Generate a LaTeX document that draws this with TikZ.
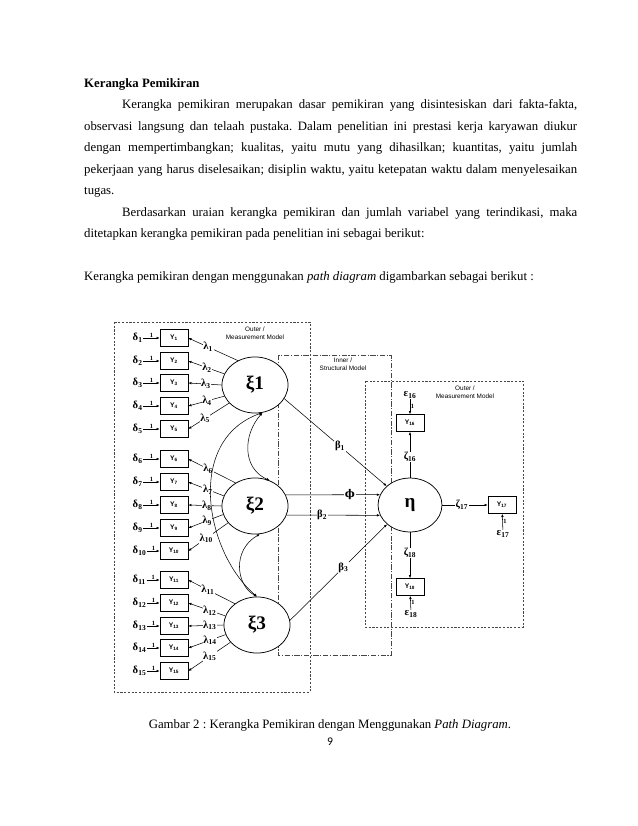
\documentclass[tikz,border=0pt]{standalone}
\usepackage{fontspec}
\setmainfont{Liberation Serif}
\newfontfamily\labsf{Liberation Sans}
\newfontfamily\pagesf{Carlito}
\newfontfamily\phisf{DejaVu Serif}
\usetikzlibrary{arrows.meta,shapes.geometric}
\definecolor{boxGray}{RGB}{70,70,70}
\newcommand{\gsym}[2]{\textbf{#1\textsubscript{#2}}}
\frenchspacing

\begin{document}
\begin{tikzpicture}[x=0.033cm,y=-0.033cm,
          txt/.style={anchor=base west,inner sep=0pt,font=\fontsize{12}{14}\selectfont},
          ybox/.style={draw,fill=white,line width=0.6pt,minimum width=0.92cm,minimum height=0.56cm,
                       inner sep=0pt,font=\labsf\bfseries\fontsize{6.3}{7}\selectfont},
          latent/.style={ellipse,draw,fill=white,line width=0.7pt,minimum width=2.18cm,
                         minimum height=1.85cm,inner sep=0pt,font=\bfseries\fontsize{18}{19}\selectfont},
          errlab/.style={anchor=west,inner sep=0.5pt,font=\bfseries\fontsize{10}{11}\selectfont},
          onlab/.style={fill=white,inner sep=0.6pt,font=\bfseries\fontsize{10}{11}\selectfont},
          one/.style={inner sep=0.5pt,font=\bfseries\fontsize{6}{6.5}\selectfont},
          modlab/.style={align=center,inner sep=0pt,font=\labsf\fontsize{6}{7.5}\selectfont},
          outerbox/.style={draw=boxGray,line width=0.6pt,dash pattern=on 2pt off 1.5pt},
          innerbox/.style={draw=boxGray,line width=0.6pt,dash pattern=on 5pt off 1.5pt on 1pt off 1.5pt},
          arr/.style={line width=0.5pt,-{Latex[length=3pt,width=2.4pt]}},
          dblarr/.style={line width=0.5pt,{Latex[length=3pt,width=2.4pt]}-{Latex[length=3pt,width=2.4pt]}},
        ]
        \fill[white] (0,0) rectangle (638,826);
        \useasboundingbox (0,0) rectangle (638,826);

        % TEXT
        \node[txt,font=\bfseries\fontsize{12}{14}\selectfont] (head) at (84,87) {Kerangka Pemikiran};
        \node[txt] (l1) at (122,108) {\makebox[15.02cm][s]{Kerangka pemikiran merupakan dasar pemikiran yang disintesiskan dari fakta-fakta,}};
        \node[txt] (l2) at (84,130) {\makebox[16.27cm][s]{observasi langsung dan telaah pustaka. Dalam penelitian ini prestasi kerja karyawan diukur}};
        \node[txt] (l3) at (84,151.5) {\makebox[16.27cm][s]{dengan mempertimbangkan; kualitas, yaitu mutu yang dihasilkan; kuantitas, yaitu jumlah}};
        \node[txt] (l4) at (84,173) {\makebox[16.27cm][s]{pekerjaan yang harus diselesaikan; disiplin waktu, yaitu ketepatan waktu dalam menyelesaikan}};
        \node[txt] (l5) at (84,194.5) {tugas.};
        \node[txt] (l6) at (122,216) {\makebox[15.02cm][s]{Berdasarkan uraian kerangka pemikiran dan jumlah variabel yang terindikasi, maka}};
        \node[txt] (l7) at (84,237.5) {ditetapkan kerangka pemikiran pada penelitian ini sebagai berikut:};
        \node[txt] (l8) at (84,280) {Kerangka pemikiran dengan menggunakan \textit{path diagram} digambarkan sebagai berikut :};

        % MODEL BOXES
        \draw[outerbox] (114,322) rectangle (310,692);
        \draw[innerbox] (278,355) rectangle (391,655);
        \draw[outerbox] (365,381) rectangle (523,627);
        \node[modlab] (mL) at (255,333) {Outer /\\Measurement Model};
        \node[modlab] (mI) at (343,364) {Inner /\\Structural Model};
        \node[modlab] (mR) at (465,392) {Outer /\\Measurement Model};

        % LATENT VARIABLES
        \node[latent] (xi1) at (255,385) {ξ1};
        \node[latent] (xi2) at (255,506) {ξ2};
        \node[latent] (xi3) at (257,625) {ξ3};
        \node[latent,minimum width=2.11cm,minimum height=1.78cm] (eta) at (410,505) {η};

        % XI 1
        \node[ybox] (y1) at (174,338) {Y\textsubscript{1}};
        \node[ybox] (y2) at (174,361) {Y\textsubscript{2}};
        \node[ybox] (y3) at (174,383) {Y\textsubscript{3}};
        \node[ybox] (y4) at (174,406) {Y\textsubscript{4}};
        \node[ybox] (y5) at (174,429) {Y\textsubscript{5}};
        \node[errlab] (d1) at (132,338) {\gsym{δ}{1}};
        \node[errlab] (d2) at (132,361) {\gsym{δ}{2}};
        \node[errlab] (d3) at (132,383) {\gsym{δ}{3}};
        \node[errlab] (d4) at (132,406) {\gsym{δ}{4}};
        \node[errlab] (d5) at (132,429) {\gsym{δ}{5}};
        \draw[arr] (d1) -- node[one,above]{1} (y1);
        \draw[arr] (d2) -- node[one,above]{1} (y2);
        \draw[arr] (d3) -- node[one,above]{1} (y3);
        \draw[arr] (d4) -- node[one,above]{1} (y4);
        \draw[arr] (d5) -- node[one,above]{1} (y5);
        \draw[arr] (xi1.125) -- node[onlab,pos=.6]{\gsym{λ}{1}} (y1.east);
        \draw[arr] (xi1.160) -- node[onlab,pos=.48]{\gsym{λ}{2}} (y2.east);
        \draw[arr] (xi1.180) -- node[onlab,pos=.47]{\gsym{λ}{3}} (y3.east);
        \draw[arr] (xi1.200) -- node[onlab,pos=.48]{\gsym{λ}{4}} (y4.east);
        \draw[arr] (xi1.215) -- node[onlab,pos=.59]{\gsym{λ}{5}} (y5.east);

        % XI 2
        \node[ybox] (y6) at (174,459) {Y\textsubscript{6}};
        \node[ybox] (y7) at (174,482) {Y\textsubscript{7}};
        \node[ybox] (y8) at (174,505) {Y\textsubscript{8}};
        \node[ybox] (y9) at (174,528) {Y\textsubscript{9}};
        \node[ybox] (y10) at (174,551) {Y\textsubscript{10}};
        \node[errlab] (d6) at (132,459) {\gsym{δ}{6}};
        \node[errlab] (d7) at (132,482) {\gsym{δ}{7}};
        \node[errlab] (d8) at (132,505) {\gsym{δ}{8}};
        \node[errlab] (d9) at (132,528) {\gsym{δ}{9}};
        \node[errlab] (d10) at (132,551) {\gsym{δ}{10}};
        \draw[arr] (d6) -- node[one,above]{1} (y6);
        \draw[arr] (d7) -- node[one,above]{1} (y7);
        \draw[arr] (d8) -- node[one,above]{1} (y8);
        \draw[arr] (d9) -- node[one,above]{1} (y9);
        \draw[arr] (d10) -- node[one,above]{1} (y10);
        \draw[arr] (xi2.130) -- node[onlab,pos=.58]{\gsym{λ}{6}} (y6.east);
        \draw[arr] (xi2.162) -- node[onlab,pos=.45]{\gsym{λ}{7}} (y7.east);
        \draw[arr] (xi2.180) -- node[onlab,pos=.44]{\gsym{λ}{8}} (y8.east);
        \draw[arr] (xi2.195) -- node[onlab,pos=.46]{\gsym{λ}{9}} (y9.east);
        \draw[arr] (xi2.212) -- node[onlab,pos=.55]{\gsym{λ}{10}} (y10.east);

        % XI 3
        \node[ybox] (y11) at (174,580) {Y\textsubscript{11}};
        \node[ybox] (y12) at (174,603) {Y\textsubscript{12}};
        \node[ybox] (y13) at (174,626) {Y\textsubscript{13}};
        \node[ybox] (y14) at (174,648) {Y\textsubscript{14}};
        \node[ybox] (y15) at (174,671) {Y\textsubscript{15}};
        \node[errlab] (d11) at (132,580) {\gsym{δ}{11}};
        \node[errlab] (d12) at (132,603) {\gsym{δ}{12}};
        \node[errlab] (d13) at (132,626) {\gsym{δ}{13}};
        \node[errlab] (d14) at (132,648) {\gsym{δ}{14}};
        \node[errlab] (d15) at (132,671) {\gsym{δ}{15}};
        \draw[arr] (d11) -- node[one,above]{1} (y11);
        \draw[arr] (d12) -- node[one,above]{1} (y12);
        \draw[arr] (d13) -- node[one,above]{1} (y13);
        \draw[arr] (d14) -- node[one,above]{1} (y14);
        \draw[arr] (d15) -- node[one,above]{1} (y15);
        \draw[arr] (xi3.136) -- node[onlab,pos=.58]{\gsym{λ}{11}} (y11.east);
        \draw[arr] (xi3.164) -- node[onlab,pos=.42]{\gsym{λ}{12}} (y12.east);
        \draw[arr] (xi3.180) -- node[onlab,pos=.39]{\gsym{λ}{13}} (y13.east);
        \draw[arr] (xi3.197) -- node[onlab,pos=.42]{\gsym{λ}{14}} (y14.east);
        \draw[arr] (xi3.213) -- node[onlab,pos=.49]{\gsym{λ}{15}} (y15.east);

        % correlations between the xi
        \draw[dblarr] (xi1.285) .. controls (243,435) and (242,468) .. (xi2.60);
        \draw[dblarr] (xi2.280) .. controls (232,550) and (236,585) .. (xi3.90);
        \draw[dblarr] (xi1.285) .. controls (185,440) and (205,552) .. (xi3.90);

        % INNER MODEL
        \draw[arr] (xi1.335) -- node[onlab,pos=.545]{\gsym{β}{1}} (eta.141);
        \draw[arr] (xi2.20) -- node[onlab,pos=.68]{\phisf\bfseries ϕ} (eta.161);
        \draw[arr] (xi2.344) -- node[onlab,pos=.38]{\gsym{β}{2}} (eta.199);
        \draw[arr] (xi3.8) -- node[onlab,pos=.55]{\gsym{β}{3}} (eta.220);

        % ETA INDICATORS
        \node[ybox] (y16) at (410,423) {Y\textsubscript{16}};
        \node[ybox] (y17) at (502,505) {Y\textsubscript{17}};
        \node[ybox] (y18) at (410,587) {Y\textsubscript{18}};
        \node[onlab,fill=none] (e16) at (410,395) {\gsym{ε}{16}};
        \node[onlab,fill=none] (e17) at (503,534) {\gsym{ε}{17}};
        \node[onlab,fill=none] (e18) at (411,614) {\gsym{ε}{18}};
        \draw[arr] (e16) -- node[one,right]{1} (y16);
        \draw[arr] (e17) -- node[one,right]{1} (y17);
        \draw[arr] (e18) -- node[one,right]{1} (y18);
        \draw[arr] (eta.north) -- node[onlab,pos=.45]{\gsym{ζ}{16}} (y16.south);
        \draw[arr] (eta.east) -- node[onlab,pos=.43]{\gsym{ζ}{17}} (y17.west);
        \draw[arr] (eta.south) -- node[onlab,pos=.45]{\gsym{ζ}{18}} (y18.north);

        % CAPTION
        \node[txt,anchor=base] (cap) at (330,728) {Gambar 2 : Kerangka Pemikiran dengan Menggunakan \textit{Path Diagram}.};
        \node[anchor=base,inner sep=0pt,font=\pagesf\fontsize{11}{12}\selectfont] (pg) at (330,745) {9};
      \end{tikzpicture}
\end{document}
